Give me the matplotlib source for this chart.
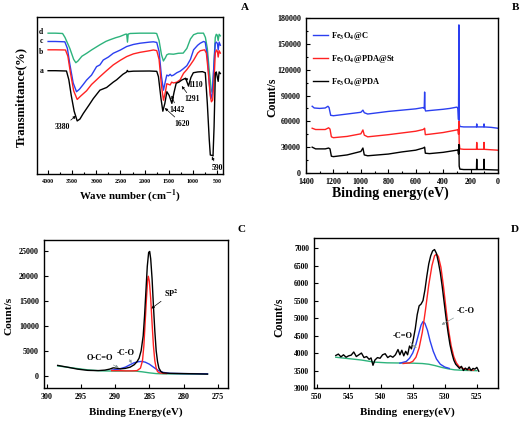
import matplotlib
matplotlib.use("Agg")
import matplotlib.pyplot as plt
from matplotlib.ticker import MultipleLocator

plt.rcParams["font.family"] = ["Liberation Serif", "DejaVu Serif"]
plt.rcParams["font.weight"] = "bold"
plt.rcParams["mathtext.fontset"] = "stix"
plt.rcParams["axes.linewidth"] = 1.0

BLUE = "#2b3ff0"
RED = "#ff2222"
GREEN = "#2db37c"
BLACK = "#000000"

# ---- Panel A: FTIR (wavenumber, transmittance %) ----
ftir_d_x = [4000, 3850, 3700, 3650, 3550, 3470, 3425, 3380, 3300, 3200, 3100, 2926, 2800, 2718, 2600,
            2510, 2400, 2371, 2355, 2340, 2300, 2100, 1800, 1750, 1700, 1650, 1610, 1570, 1540, 1500,
            1401, 1300, 1200, 1124, 1050, 985, 900, 780, 740, 700, 660, 620, 600, 585, 560, 535, 515,
            495, 475, 455, 430]
ftir_d_y = [89.7, 89.7, 89.5, 87.0, 80.0, 73.0, 70.9, 72.0, 75.0, 76.9, 79.0, 82.3, 84.5, 85.5, 86.8,
            87.6, 89.0, 89.1, 84.0, 89.1, 89.5, 89.7, 89.7, 89.5, 85.0, 76.0, 72.0, 74.0, 75.9, 76.5,
            76.3, 76.9, 77.0, 80.0, 86.0, 88.7, 89.7, 89.7, 87.0, 80.0, 66.0, 54.0, 52.0, 55.0, 72.0,
            87.0, 89.0, 88.5, 85.0, 89.0, 88.0]
ftir_c_x = [4000, 3850, 3653, 3600, 3550, 3480, 3411, 3350, 3272, 3203, 3100, 2995, 2926, 2857, 2750,
            2649, 2500, 2371, 2233, 2094, 1900, 1817, 1748, 1700, 1650, 1609, 1570, 1540, 1505, 1470,
            1440, 1401, 1332, 1263, 1200, 1124, 1050, 985, 900, 847, 778, 743, 700, 660, 625, 600, 570,
            535, 510, 490, 475, 455, 430]
ftir_c_y = [84.4, 84.4, 84.2, 80.0, 70.0, 58.0, 52.4, 54.0, 57.0, 59.8, 63.0, 68.4, 69.5, 72.6, 74.5,
            76.9, 79.0, 81.2, 82.5, 83.3, 84.0, 84.2, 83.8, 78.0, 62.0, 53.4, 59.0, 63.0, 62.5, 63.5,
            62.5, 63.0, 64.5, 65.5, 67.0, 69.0, 73.0, 79.1, 82.0, 83.3, 84.4, 84.0, 75.0, 58.0, 48.0,
            51.0, 66.0, 83.3, 84.0, 83.0, 79.0, 84.0, 82.0]
ftir_b_x = [4000, 3850, 3640, 3590, 3540, 3470, 3397, 3330, 3203, 3100, 2926, 2800, 2649, 2500, 2371,
            2233, 2094, 1900, 1817, 1748, 1700, 1650, 1609, 1570, 1540, 1470, 1440, 1401, 1332, 1263,
            1193, 1124, 1054, 985, 900, 847, 757, 720, 680, 640, 615, 590, 560, 535, 510, 490, 475,
            455, 430]
ftir_b_y = [79.1, 79.1, 79.0, 75.0, 65.0, 53.0, 47.5, 49.5, 53.0, 57.0, 62.0, 65.5, 69.5, 72.5, 74.8,
            76.5, 77.5, 78.5, 79.0, 78.6, 73.0, 56.0, 47.0, 52.0, 57.5, 56.7, 58.5, 58.0, 58.5, 60.0,
            64.1, 66.5, 69.4, 72.5, 77.0, 78.5, 79.1, 77.0, 65.0, 50.0, 46.0, 47.0, 60.0, 77.0, 79.0,
            78.0, 74.5, 78.5, 77.0]
ftir_a_x = [4000, 3850, 3619, 3570, 3520, 3460, 3397, 3340, 3272, 3150, 3064, 2926, 2787, 2650, 2579,
            2450, 2371, 2358, 2340, 2233, 1900, 1748, 1713, 1660, 1622, 1580, 1538, 1490, 1435, 1390,
            1345, 1290, 1227, 1150, 1090, 1040, 990, 900, 800, 742, 700, 660, 638, 600, 582, 560, 534,
            515, 495, 475, 455, 430]
ftir_a_y = [65.8, 65.8, 65.6, 60.0, 50.0, 40.0, 33.8, 35.0, 38.5, 44.0, 48.0, 53.4, 55.1, 58.5, 60.0,
            63.5, 65.0, 66.0, 65.2, 65.5, 65.6, 65.4, 62.0, 48.0, 40.0, 45.0, 52.4, 50.0, 45.0, 52.0,
            57.8, 58.5, 59.9, 61.0, 56.0, 61.5, 64.5, 65.0, 65.2, 64.5, 45.0, 22.0, 12.1, 11.8, 11.5,
            30.0, 64.0, 65.0, 62.0, 59.0, 65.0, 64.0]

# ---- Panel B: XPS survey (binding energy eV, counts/s) ----
surv_c_x = [1355, 1340, 1300, 1260, 1240, 1232, 1220, 1200, 1150, 1100, 1050, 1000, 985, 975, 950, 900,
            800, 700, 600, 545, 538, 535, 532, 528, 500, 400, 350, 300, 292, 288, 285, 283, 278, 250,
            200, 157, 155, 153, 104, 102, 100, 50, 2]
surv_c_y = [77500, 75500, 75000, 75500, 77500, 76000, 67000, 66500, 67500, 68500, 69500, 70500, 73000,
            70000, 68500, 69500, 71500, 73000, 74500, 76000, 75000, 94000, 74000, 72000, 72500, 74000,
            75000, 76500, 75000, 62000, 172000, 58000, 54000, 53500, 53500, 53500, 57000, 53500, 53500,
            57000, 53500, 53000, 52000]
surv_b_x = [1355, 1330, 1260, 1235, 1225, 1215, 1200, 1100, 1000, 985, 975, 950, 800, 700, 600, 545,
            535, 530, 500, 400, 300, 292, 288, 285, 283, 278, 250, 157, 155, 153, 104, 102, 100, 2]
surv_b_y = [52000, 50500, 50500, 52500, 51000, 42000, 41000, 42500, 45500, 50000, 44000, 42000, 44500,
            46500, 48500, 50500, 52000, 44500, 45000, 47000, 50000, 50500, 45000, 60000, 35000, 28000,
            27500, 27500, 35500, 27500, 27500, 35500, 27500, 26500]
surv_a_x = [1355, 1330, 1260, 1235, 1225, 1215, 1200, 1100, 1000, 985, 975, 950, 800, 700, 600, 545,
            535, 530, 500, 400, 300, 292, 288, 285, 283, 278, 250, 157, 155, 153, 104, 102, 100, 10, 2]
surv_a_y = [30000, 28000, 28000, 29000, 28000, 19500, 19000, 21000, 25000, 29000, 21000, 20000, 22000,
            24500, 26500, 29000, 30000, 23000, 22500, 24000, 26500, 27000, 22000, 33000, 8000, 4500,
            4000, 4000, 16000, 4000, 4000, 16000, 4000, 3500, 3500]
surv_labels = [r"Fe$_\mathbf{3}$O$_\mathbf{4}$@C", r"Fe$_\mathbf{3}$O$_\mathbf{4}$@PDA@St",
               r"Fe$_\mathbf{3}$O$_\mathbf{4}$@PDA"]

# ---- Panel C: C1s ----
c1s_x = [298.4, 297.0, 295.5, 294.0, 292.5, 291.5, 290.8, 290.3, 289.8, 289.2, 288.5, 287.8, 287.2, 286.8,
         286.5, 286.2, 285.9, 285.7, 285.5, 285.3, 285.1, 284.95, 284.8, 284.6, 284.4, 284.2, 284.0,
         283.8, 283.6, 283.3, 283.0, 282.0, 280.0, 278.0, 276.5]
c1s_y = [2050, 1700, 1300, 1050, 1000, 1100, 1300, 1550, 1500, 1350, 1450, 1700, 2200, 2800, 3500, 5000,
         8000, 12000, 17000, 22000, 24800, 25000, 23500, 19500, 14000, 9000, 5000, 2800, 1500, 800, 550,
         450, 400, 350, 300]
c1s_sp2_x = [290.5, 289.5, 288.5, 287.5, 286.8, 286.3, 286.0, 285.8, 285.6, 285.4, 285.25, 285.15, 285.0,
             284.8, 284.6, 284.4, 284.2, 284.0, 283.8, 283.5, 283.0, 282.5]
c1s_sp2_y = [1000, 1000, 950, 950, 1000, 1500, 3000, 6000, 11000, 16000, 19200, 20000, 19000, 15500,
             10500, 6000, 3000, 1500, 800, 550, 450, 420]
c1s_co_x = [290.5, 289.5, 288.5, 287.8, 287.2, 286.6, 286.1, 285.6, 285.0, 284.5, 284.0, 283.5, 283.0,
            282.0, 280.0, 278.0, 276.5]
c1s_co_y = [1100, 1300, 1700, 2200, 2600, 2800, 2850, 2700, 2300, 1800, 1300, 900, 650, 450, 400, 380, 350]
c1s_bg_x = [298.4, 296.0, 294.0, 292.0, 290.0, 288.0, 287.0, 286.0, 285.0, 284.0, 283.0, 280.0, 276.5]
c1s_bg_y = [1950, 1500, 1150, 950, 900, 920, 900, 750, 550, 400, 350, 330, 300]

# ---- Panel D: O1s ----
o1s_x = [547.0, 546.6, 546.2, 545.8, 545.4, 545.0, 544.6, 544.2, 543.8, 543.4, 543.0, 542.6, 542.2, 541.8,
         541.5, 541.2, 540.9, 540.5, 540.1, 539.7, 539.3, 538.9, 538.5, 538.1, 537.7, 537.3, 537.0, 536.7,
         536.4, 536.1, 535.8, 535.5, 535.2, 534.9, 534.6, 534.3, 534.0, 533.7, 533.4, 533.1, 532.8, 532.5,
         532.2, 531.9, 531.6, 531.3, 531.0, 530.7, 530.4, 530.1, 529.8, 529.5, 529.2, 528.9, 528.6, 528.3,
         528.0, 527.7, 527.4, 527.1, 526.8, 526.5, 526.2, 525.9, 525.6, 525.3, 525.0, 524.7]
o1s_y = [3930, 3970, 3890, 3950, 3880, 3920, 3940, 4030, 3900, 3950, 4000, 3870, 3900, 3820, 3860, 3650,
         3800, 3870, 3850, 3950, 3980, 3870, 3920, 3880, 3950, 4100, 3950, 4080, 3920, 4050, 3950, 4200,
         4120, 4400, 4700, 5100, 5350, 5400, 5500, 5800, 6200, 6550, 6780, 6920, 6960, 6850, 6600, 6300,
         5900, 5450, 5000, 4600, 4250, 4000, 3800, 3680, 3620, 3560, 3620, 3500, 3570, 3520, 3600, 3500,
         3560, 3540, 3590, 3480]
o1s_co_x = [536.5, 535.5, 535.0, 534.5, 534.0, 533.5, 533.0, 532.5, 532.0, 531.6, 531.3, 531.0, 530.6,
            530.2, 529.8, 529.4, 529.0, 528.6, 528.2, 527.8, 527.2, 526.5, 525.5]
o1s_co_y = [3700, 3720, 3760, 3880, 4150, 4600, 5250, 5950, 6500, 6780, 6830, 6760, 6450, 5900, 5250,
            4650, 4200, 3900, 3720, 3620, 3560, 3530, 3510]
o1s_cdo_x = [537.0, 536.0, 535.5, 535.0, 534.5, 534.0, 533.7, 533.4, 533.1, 532.7, 532.3, 531.8, 531.3,
             530.7, 530.0, 529.3]
o1s_cdo_y = [3710, 3760, 3850, 4000, 4250, 4600, 4800, 4900, 4850, 4650, 4350, 4050, 3830, 3680, 3600, 3560]
o1s_bg_x = [547.0, 545.0, 543.0, 541.0, 539.0, 537.0, 535.0, 533.5, 532.5, 531.5, 530.5, 529.5, 528.5,
            527.0, 525.0]
o1s_bg_y = [3880, 3840, 3800, 3740, 3720, 3715, 3710, 3700, 3680, 3640, 3590, 3550, 3520, 3505, 3495]

W, H = 520, 422
fig = plt.figure(figsize=(W / 100, H / 100), dpi=100)


def add_ax(l, t, r, b):
    return fig.add_axes([l / W, 1 - b / H, (r - l) / W, (b - t) / H])


def style(ax, size):
    ax.tick_params(which="both", direction="in", labelsize=size, width=0.8)
    ax.tick_params(which="major", length=3)
    ax.tick_params(which="minor", length=1.5)
    for lab in ax.get_xticklabels() + ax.get_yticklabels():
        lab.set_fontweight("bold")


arrow = dict(arrowstyle="-|>", lw=0.5, color="black", mutation_scale=4, shrinkA=0, shrinkB=0)
garrow = dict(arrowstyle="-|>", lw=0.5, color="#8a9a9a", mutation_scale=4, shrinkA=0, shrinkB=0)

# Panel A
ax = add_ax(37, 17, 223, 174)
ax.plot(ftir_d_x, ftir_d_y, color=GREEN, lw=1)
ax.plot(ftir_c_x, ftir_c_y, color=BLUE, lw=1)
ax.plot(ftir_b_x, ftir_b_y, color=RED, lw=1)
ax.plot(ftir_a_x, ftir_a_y, color=BLACK, lw=1)
ax.set_xlim(4230, 375)
ax.set_ylim(0, 100)
ax.set_yticks([])
ax.xaxis.set_major_locator(MultipleLocator(500))
ax.xaxis.set_minor_locator(MultipleLocator(250))
style(ax, 4.3)
for lab, yv in zip("dcba", [90.2, 84.4, 78.0, 65.6]):
    ax.text(4100, yv, lab, fontsize=5.5, ha="right", va="center")
ax.annotate("3380", xy=(3425, 37), xytext=(3700, 30), fontsize=5.5, ha="center", va="center", arrowprops=arrow)
ax.annotate("1620", xy=(1580, 42), xytext=(1220, 32), fontsize=5.5, ha="center", va="center", arrowprops=arrow)
ax.annotate("1442", xy=(1440, 50), xytext=(1330, 41), fontsize=5.5, ha="center", va="center", arrowprops=arrow)
ax.annotate("1291", xy=(1230, 56), xytext=(1020, 47.5), fontsize=5.5, ha="center", va="center", arrowprops=arrow)
ax.annotate("1110", xy=(1170, 61), xytext=(950, 57), fontsize=5.5, ha="center", va="center", arrowprops=arrow)
ax.annotate("590", xy=(605, 11), xytext=(500, 4), fontsize=5.5, ha="center", va="center", arrowprops=arrow)
ax.set_xlabel(r"Wave number (cm$^{\mathbf{-1}}$)", fontsize=7.8, fontweight="bold")
ax.set_ylabel("Transmittance(%)", fontsize=9.2, fontweight="bold")
ax.xaxis.set_label_coords(0.5, -0.085)
ax.yaxis.set_label_coords(-0.055, 0.49)

# Panel B
ax = add_ax(306, 18, 498, 173)
ax.plot(surv_c_x, surv_c_y, color=BLUE, lw=1, label=surv_labels[0])
ax.plot(surv_b_x, surv_b_y, color=RED, lw=1, label=surv_labels[1])
ax.plot(surv_a_x, surv_a_y, color=BLACK, lw=1, label=surv_labels[2])
ax.set_xlim(1400, 0)
ax.set_ylim(0, 180000)
ax.xaxis.set_major_locator(MultipleLocator(200))
ax.xaxis.set_minor_locator(MultipleLocator(100))
ax.yaxis.set_major_locator(MultipleLocator(30000))
ax.yaxis.set_minor_locator(MultipleLocator(15000))
style(ax, 5.8)
ax.legend(loc="upper left", bbox_to_anchor=(0.036, 0.92), frameon=False,
          handlelength=1.8, handletextpad=0.4, labelspacing=1.3, borderpad=0, borderaxespad=0,
          prop={"weight": "bold", "size": 6})
ax.set_xlabel("Binding energy(eV)", fontsize=10, fontweight="bold")
ax.set_ylabel("Count/s", fontsize=8.5, fontweight="bold")
ax.xaxis.set_label_coords(0.44, -0.085)
ax.yaxis.set_label_coords(-0.146, 0.49)

# Panel C
ax = add_ax(44, 240, 228, 388)
ax.plot(c1s_bg_x, c1s_bg_y, color=GREEN, lw=1)
ax.plot(c1s_co_x, c1s_co_y, color=BLUE, lw=1)
ax.plot(c1s_sp2_x, c1s_sp2_y, color=RED, lw=1)
ax.plot(c1s_x, c1s_y, color=BLACK, lw=1)
ax.set_xlim(300.4, 273.5)
ax.set_ylim(-2500, 27300)
ax.xaxis.set_major_locator(MultipleLocator(5))
ax.yaxis.set_major_locator(MultipleLocator(5000))
style(ax, 5.8)
ax.annotate(r"SP$^\mathbf{2}$", xy=(284.7, 13500), xytext=(281.8, 16500), fontsize=6, ha="center", va="center",
            arrowprops=arrow)
ax.annotate("-C-O", xy=(287.6, 2500), xytext=(288.4, 4600), fontsize=6, ha="center", va="center",
            arrowprops=garrow)
ax.annotate("O-C=O", xy=(289.5, 1600), xytext=(292.2, 3500), fontsize=6, ha="center", va="center",
            arrowprops=garrow)
ax.set_xlabel("Binding Energy(eV)", fontsize=7.8, fontweight="bold")
ax.set_ylabel("Count/s", fontsize=8.2, fontweight="bold")
ax.xaxis.set_label_coords(0.5, -0.128)
ax.yaxis.set_label_coords(-0.168, 0.49)

# Panel D
ax = add_ax(314, 238, 498, 388)
ax.plot(o1s_bg_x, o1s_bg_y, color=GREEN, lw=1)
ax.plot(o1s_cdo_x, o1s_cdo_y, color=BLUE, lw=1)
ax.plot(o1s_co_x, o1s_co_y, color=RED, lw=1)
ax.plot(o1s_x, o1s_y, color=BLACK, lw=1)
ax.set_xlim(550.4, 521.7)
ax.set_ylim(3000, 7290)
ax.xaxis.set_major_locator(MultipleLocator(5))
ax.yaxis.set_major_locator(MultipleLocator(500))
style(ax, 5.5)
ax.annotate("-C=O", xy=(534.4, 4140), xytext=(536.5, 4500), fontsize=6, ha="center", va="center",
            arrowprops=garrow)
ax.annotate("-C-O", xy=(530.5, 4810), xytext=(526.8, 5190), fontsize=6, ha="center", va="center",
            arrowprops=garrow)
ax.set_xlabel("Binding  energy(eV)", fontsize=7.9, fontweight="bold")
ax.set_ylabel("Count/s", fontsize=8.5, fontweight="bold")
ax.xaxis.set_label_coords(0.505, -0.127)
ax.yaxis.set_label_coords(-0.158, 0.47)

for lab, x, y in [("A", 245, 7), ("B", 515, 7), ("C", 242, 230), ("D", 515, 229)]:
    fig.text(x / W, 1 - y / H, lab, fontsize=8, fontweight="bold", ha="center", va="center")

fig.savefig("out.png", dpi=100)
